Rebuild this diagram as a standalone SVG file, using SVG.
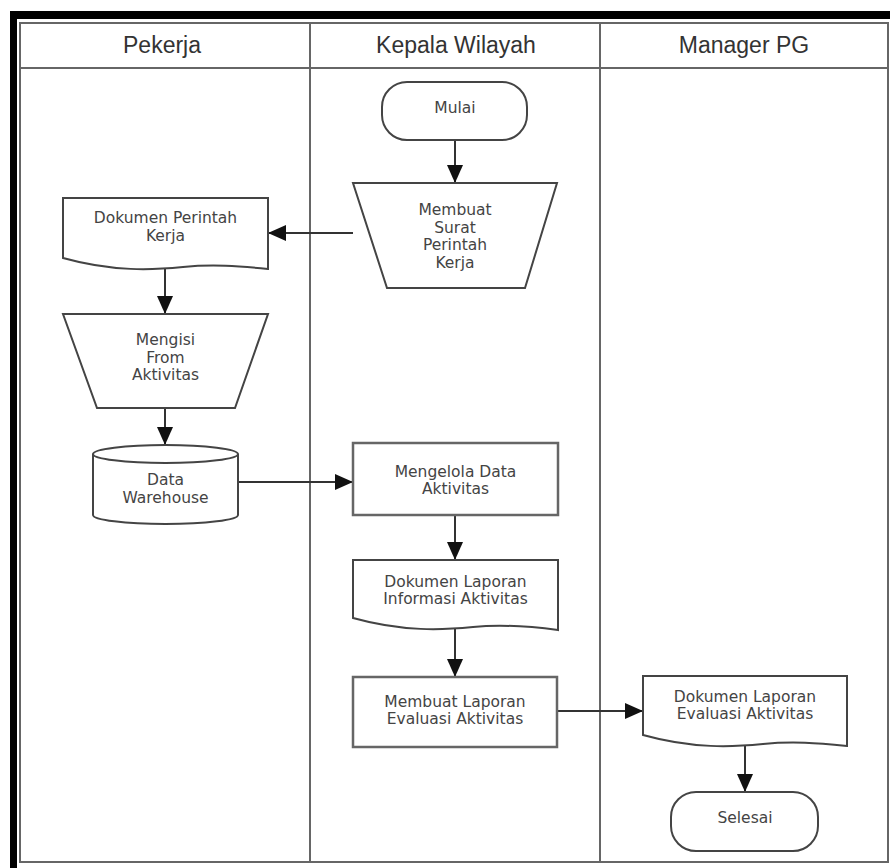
<svg xmlns="http://www.w3.org/2000/svg" width="890" height="868" viewBox="0 0 890 868">
  <defs>
    <marker id="arrow" markerUnits="userSpaceOnUse" markerWidth="18" markerHeight="16" refX="18" refY="8" orient="auto">
      <path d="M0,0 L18,8 L0,16 Z" fill="#111"/>
    </marker>
  </defs>
  <style>
    .frame { fill: #000; }
    .lane { fill: none; stroke: #666; stroke-width: 2; }
    .hdr { font-family: "Liberation Sans", Arial, sans-serif; font-size: 23px; fill: #333; text-anchor: middle; }
    .shape { fill: #fff; stroke: #444; stroke-width: 2; }
    .box { fill: #fff; stroke: #666; stroke-width: 2.5; }
    .lbl { font-family: "DejaVu Sans", Verdana, sans-serif; font-size: 15.5px; fill: #444; text-anchor: middle; }
    .conn { fill: none; stroke: #333; stroke-width: 2; marker-end: url(#arrow); }
  </style>

  <rect width="890" height="868" fill="#fff"/>

  <!-- heavy outer border (top and left) -->
  <rect class="frame" x="10" y="11" width="880" height="8"/>
  <rect class="frame" x="10" y="11" width="7" height="857"/>

  <!-- swimlane pool -->
  <g id="pool">
    <rect class="lane" x="20" y="23" width="868" height="839"/>
    <line class="lane" x1="20" y1="68" x2="888" y2="68"/>
    <line class="lane" x1="310" y1="23" x2="310" y2="862"/>
    <line class="lane" x1="600" y1="23" x2="600" y2="862"/>
    <text class="hdr" x="162" y="53">Pekerja</text>
    <text class="hdr" x="456" y="53">Kepala Wilayah</text>
    <text class="hdr" x="744" y="53">Manager PG</text>
  </g>

  <!-- connectors -->
  <g id="connectors">
    <path class="conn" d="M455,140 V183"/>
    <path class="conn" d="M353,233 H268"/>
    <path class="conn" d="M165,268 V314"/>
    <path class="conn" d="M165,408 V445"/>
    <path class="conn" d="M238,482 H353"/>
    <path class="conn" d="M455,515 V560"/>
    <path class="conn" d="M455,628 V677"/>
    <path class="conn" d="M557,711 H643"/>
    <path class="conn" d="M745,745 V792"/>
  </g>

  <g id="mulai">
    <rect class="shape" x="382" y="82" width="145" height="58" rx="25"/>
    <text class="lbl" x="455" y="113">Mulai</text>
  </g>

  <g id="membuat-surat">
    <path class="shape" d="M353,183 H557 L525,288 H387 Z"/>
    <text class="lbl" x="455" y="215">Membuat</text>
    <text class="lbl" x="455" y="232.5">Surat</text>
    <text class="lbl" x="455" y="250">Perintah</text>
    <text class="lbl" x="455" y="267.5">Kerja</text>
  </g>

  <g id="dokumen-perintah">
    <path class="shape" d="M63,258 C113,272 153,270 183,267 S238,266 268,269 V198 H63 Z"/>
    <text class="lbl" x="165.5" y="223">Dokumen Perintah</text>
    <text class="lbl" x="165.5" y="241">Kerja</text>
  </g>

  <g id="mengisi-form">
    <path class="shape" d="M63,314 H268 L235,408 H97 Z"/>
    <text class="lbl" x="165.5" y="345">Mengisi</text>
    <text class="lbl" x="165.5" y="362.5">From</text>
    <text class="lbl" x="165.5" y="380">Aktivitas</text>
  </g>

  <g id="data-warehouse">
    <path class="shape" d="M93,454 A72.5,9 0 0 1 238,454 V515 A72.5,9 0 0 1 93,515 Z"/>
    <path class="shape" fill="none" d="M93,454 A72.5,9 0 0 0 238,454"/>
    <text class="lbl" x="165.5" y="485">Data</text>
    <text class="lbl" x="165.5" y="503">Warehouse</text>
  </g>

  <g id="mengelola-data">
    <rect class="box" x="353" y="443" width="205" height="72"/>
    <text class="lbl" x="455.5" y="477">Mengelola Data</text>
    <text class="lbl" x="455.5" y="494">Aktivitas</text>
  </g>

  <g id="dokumen-informasi">
    <path class="shape" d="M353,618 C403,632 443,630 473,627 S528,626 558,630 V560 H353 Z"/>
    <text class="lbl" x="455.5" y="587">Dokumen Laporan</text>
    <text class="lbl" x="455.5" y="604">Informasi Aktivitas</text>
  </g>

  <g id="membuat-laporan">
    <rect class="box" x="353" y="677" width="204" height="70"/>
    <text class="lbl" x="455" y="707">Membuat Laporan</text>
    <text class="lbl" x="455" y="724">Evaluasi Aktivitas</text>
  </g>

  <g id="dokumen-evaluasi">
    <path class="shape" d="M643,735 C693,749 733,747 763,744 S817,743 847,746 V676 H643 Z"/>
    <text class="lbl" x="745" y="702">Dokumen Laporan</text>
    <text class="lbl" x="745" y="719">Evaluasi Aktivitas</text>
  </g>

  <g id="selesai">
    <rect class="shape" x="671" y="792" width="147" height="59" rx="25"/>
    <text class="lbl" x="745" y="823">Selesai</text>
  </g>
</svg>
